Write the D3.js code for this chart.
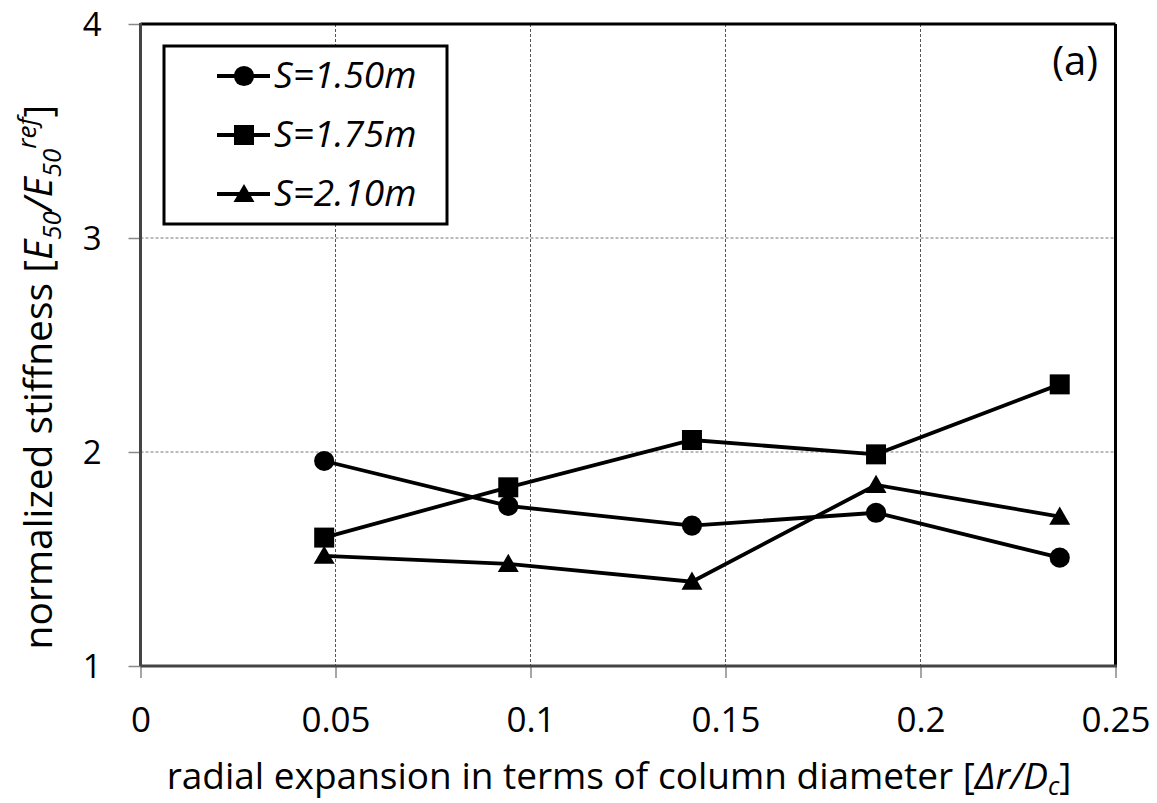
<!DOCTYPE html>
<html><head><meta charset="utf-8">
<script src="https://cdn.jsdelivr.net/npm/d3@7"></script>
<style>body{margin:0;background:#fff}text{font-family:"Open Sans","Noto Sans",sans-serif}</style>
</head><body><svg id="c" width="1157" height="803"></svg>
<script>
const xValues = [0.0471, 0.0943, 0.1414, 0.1886, 0.2357];
const s150 = [1.958, 1.748, 1.656, 1.716, 1.506];
const s175 = [1.600, 1.835, 2.056, 1.989, 2.316];
const s210 = [1.515, 1.477, 1.394, 1.846, 1.698];
const seriesNames = ["S=1.50m", "S=1.75m", "S=2.10m"];
const seriesSymbols = ["circle", "square", "triangle"];
const xTicks = [0, 0.05, 0.1, 0.15, 0.2, 0.25];
const xTickLabels = ["0", "0.05", "0.1", "0.15", "0.2", "0.25"];
const yTicks = [1, 2, 3, 4];

const svg = d3.select("#c");
const L = 140.5, R = 1115.5, T = 24, B = 666;
const x = d3.scaleLinear().domain([0, 0.25]).range([L, R]);
const y = d3.scaleLinear().domain([1, 4]).range([B, T]);

// grid
svg.append("g").selectAll("line").data(xTicks.slice(1, -1)).join("line")
  .attr("x1", d => x(d)).attr("x2", d => x(d)).attr("y1", T).attr("y2", B)
  .attr("stroke", "#555").attr("stroke-width", 1).attr("stroke-dasharray", "3,2");
svg.append("g").selectAll("line").data(yTicks.slice(1, -1)).join("line")
  .attr("y1", d => y(d)).attr("y2", d => y(d)).attr("x1", L).attr("x2", R)
  .attr("stroke", "#777").attr("stroke-width", 1).attr("stroke-dasharray", "3,2");

// axes
const xAxis = svg.append("g").attr("transform", `translate(0,${B})`)
  .call(d3.axisBottom(x).tickValues(xTicks).tickFormat((d, i) => xTickLabels[i]).tickSize(12).tickPadding(29));
const yAxis = svg.append("g").attr("transform", `translate(${L},0)`)
  .call(d3.axisLeft(y).tickValues(yTicks).tickFormat(d3.format("d")).tickSize(12).tickPadding(27));
[xAxis, yAxis].forEach(a => {
  a.select(".domain").remove();
  a.selectAll(".tick line").attr("stroke", "#888").attr("stroke-width", 1.5);
  a.selectAll(".tick text").attr("fill", "#000")
    .attr("font-family", "'Open Sans','Noto Sans',sans-serif");
});
xAxis.selectAll(".tick text").attr("font-size", 35).attr("dy", "0.71em");
yAxis.selectAll(".tick text").attr("font-size", 33).attr("dy", "0.35em");

// frame
svg.append("line").attr("x1", L).attr("x2", R).attr("y1", T).attr("y2", T).attr("stroke", "#000").attr("stroke-width", 3);
svg.append("line").attr("x1", R).attr("x2", R).attr("y1", T).attr("y2", B).attr("stroke", "#000").attr("stroke-width", 3);
svg.append("line").attr("x1", L).attr("x2", L).attr("y1", T - 1).attr("y2", B).attr("stroke", "#444").attr("stroke-width", 3);
svg.append("line").attr("x1", L).attr("x2", R + 1.5).attr("y1", B).attr("y2", B).attr("stroke", "#444").attr("stroke-width", 3);

// series
const data = [s150, s175, s210];
const symType = {circle: d3.symbolCircle, square: d3.symbolSquare, triangle: d3.symbolTriangle};
const symSize = {circle: 320, square: 400, triangle: 190};
const line = d3.line().x(d => x(d[0])).y(d => y(d[1]));
data.forEach((vals, i) => {
  const pts = xValues.map((xv, j) => [xv, vals[j]]);
  svg.append("path").attr("d", line(pts)).attr("fill", "none").attr("stroke", "#000").attr("stroke-width", 3.8);
  const sym = seriesSymbols[i];
  svg.append("g").selectAll("path").data(pts).join("path")
    .attr("transform", d => `translate(${x(d[0])},${y(d[1]) + (sym === "triangle" ? 2 : 0)})`)
    .attr("d", d3.symbol().type(symType[sym]).size(symSize[sym])).attr("fill", "#000");
});

// legend
const lg = svg.append("g");
lg.append("rect").attr("x", 164).attr("y", 46).attr("width", 283).attr("height", 178)
  .attr("fill", "#fff").attr("stroke", "#000").attr("stroke-width", 3);
seriesNames.forEach((n, i) => {
  const cy = 76 + i * 59;
  const sym = seriesSymbols[i];
  lg.append("line").attr("x1", 217).attr("x2", 270).attr("y1", cy).attr("y2", cy).attr("stroke", "#000").attr("stroke-width", 3.8);
  lg.append("path").attr("transform", `translate(244,${cy + (sym === "triangle" ? 2 : 0)})`)
    .attr("d", d3.symbol().type(symType[sym]).size(symSize[sym])).attr("fill", "#000");
  lg.append("text").attr("x", 274).attr("y", cy + 12).attr("font-size", 37)
    .attr("font-style", "italic").text(n);
});

// panel label
svg.append("text").attr("x", 1098).attr("y", 75).attr("text-anchor", "end").attr("font-size", 40).text("(a)");

// axis titles
const xt = svg.append("text").attr("x", 619).attr("y", 789).attr("text-anchor", "middle").attr("font-size", 37);
xt.append("tspan").text("radial expansion in terms of column diameter [");
xt.append("tspan").attr("font-style", "italic").text("Δr/D");
xt.append("tspan").attr("font-style", "italic").attr("font-size", 25).attr("dy", 6).text("c");
xt.append("tspan").attr("dy", -6).text("]");

const yt = svg.append("text").attr("transform", "translate(52,377) rotate(-90)").attr("text-anchor", "middle").attr("font-size", 39);
yt.append("tspan").text("normalized stiffness [");
yt.append("tspan").attr("font-style", "italic").text("E");
yt.append("tspan").attr("font-style", "italic").attr("font-size", 26).attr("dy", 9).text("50");
yt.append("tspan").attr("font-style", "italic").attr("dy", -9).text("/E");
yt.append("tspan").attr("font-style", "italic").attr("font-size", 26).attr("dy", 9).text("50");
yt.append("tspan").attr("font-style", "italic").attr("font-size", 26).attr("dy", -25).text("ref");
yt.append("tspan").attr("dy", 16).text("]");
</script></body></html>
